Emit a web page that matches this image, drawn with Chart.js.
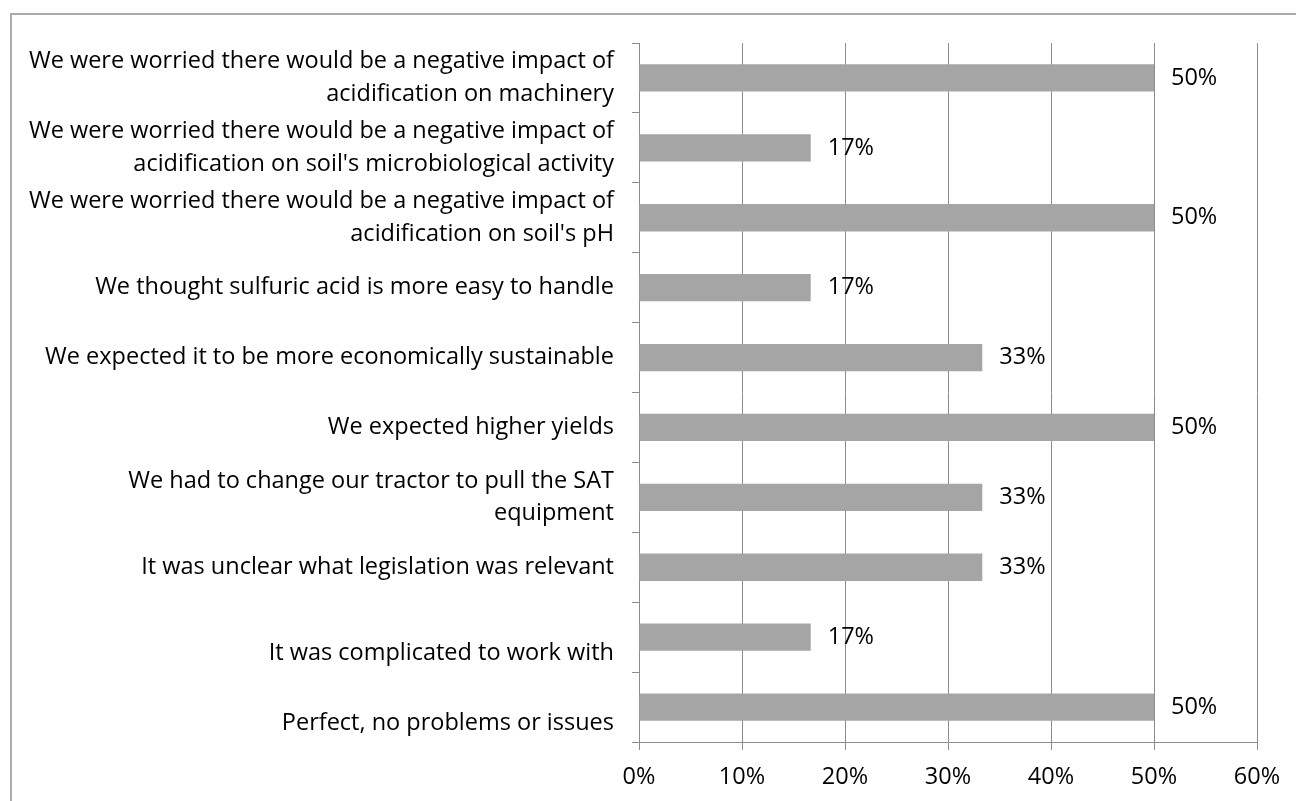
<!DOCTYPE html>
<html>
<head>
<meta charset="utf-8">
<script src="https://cdn.jsdelivr.net/npm/chart.js@4.4.1/dist/chart.umd.min.js"></script>
<style>
  html, body { margin: 0; padding: 0; background: #fff; overflow: hidden; }
  #wrap { position: relative; width: 1296px; height: 801px; }
  #frame { position: absolute; left: 10px; top: 13px; width: 1400px; height: 900px;
           border-left: 2px solid #ababab; border-top: 2px solid #ababab; }
  canvas { position: absolute; left: 0; top: 0; }
</style>
</head>
<body>
<div id="wrap">
  <div id="frame"></div>
  <canvas id="chart" width="1296" height="801"></canvas>
</div>
<script>
const categories = [
  ["We were worried there would be a negative impact of", "acidification on machinery"],
  ["We were worried there would be a negative impact of", "acidification on soil's microbiological activity"],
  ["We were worried there would be a negative impact of", "acidification on soil's pH"],
  "We thought sulfuric acid is more easy to handle",
  "We expected it to be more economically sustainable",
  "We expected higher yields",
  ["We had to change our tractor to pull the SAT", "equipment"],
  "It was unclear what legislation was relevant",
  ["", "It was complicated to work with"],
  ["", "Perfect, no problems or issues"]
];
const shares = [50, 16.67, 50, 16.67, 33.33, 50, 33.33, 33.33, 16.67, 50];
const xTicks = [0, 10, 20, 30, 40, 50, 60];

const FONT = '"Open Sans"';
const SIZE = 23.5;
const gridColor = '#8c8c8c';

// value labels just past the end of each bar
const barLabels = {
  id: 'barLabels',
  afterDatasetsDraw(chart) {
    const ctx = chart.ctx;
    const meta = chart.getDatasetMeta(0);
    ctx.save();
    ctx.font = SIZE + 'px ' + FONT;
    ctx.fillStyle = '#000';
    ctx.textAlign = 'left';
    ctx.textBaseline = 'middle';
    meta.data.forEach((bar, i) => {
      ctx.fillText(Math.round(shares[i]) + '%', bar.x + 17, bar.y);
    });
    ctx.restore();
  }
};

new Chart(document.getElementById('chart'), {
  type: 'bar',
  data: {
    labels: categories,
    datasets: [{
      data: shares,
      backgroundColor: '#a5a5a5',
      borderWidth: 0,
      barPercentage: 0.39,
      categoryPercentage: 1
    }]
  },
  options: {
    indexAxis: 'y',
    responsive: false,
    animation: false,
    layout: { padding: { top: 43, right: 39, left: 0, bottom: 0 } },
    plugins: {
      legend: { display: false },
      tooltip: { enabled: false }
    },
    scales: {
      x: {
        min: 0,
        max: 60,
        afterBuildTicks: s => { s.ticks = xTicks.map(v => ({ value: v })); },
        afterFit: s => { s.height = 59; },
        ticks: {
          callback: v => v + '%',
          color: '#000',
          padding: 13,
          maxRotation: 0,
          font: { family: FONT, size: SIZE }
        },
        grid: { color: gridColor, tickLength: 8 },
        border: { color: gridColor }
      },
      y: {
        afterFit: s => { s.width = 639; s.paddingTop = 0; s.paddingBottom = 0; },
        ticks: {
          color: '#000',
          padding: 18,
          autoSkip: false,
          font: { family: FONT, size: SIZE, lineHeight: 1.4 }
        },
        grid: { color: gridColor, drawOnChartArea: false, offset: true, tickLength: 7 },
        border: { color: gridColor }
      }
    }
  },
  plugins: [barLabels]
});
</script>
</body>
</html>
